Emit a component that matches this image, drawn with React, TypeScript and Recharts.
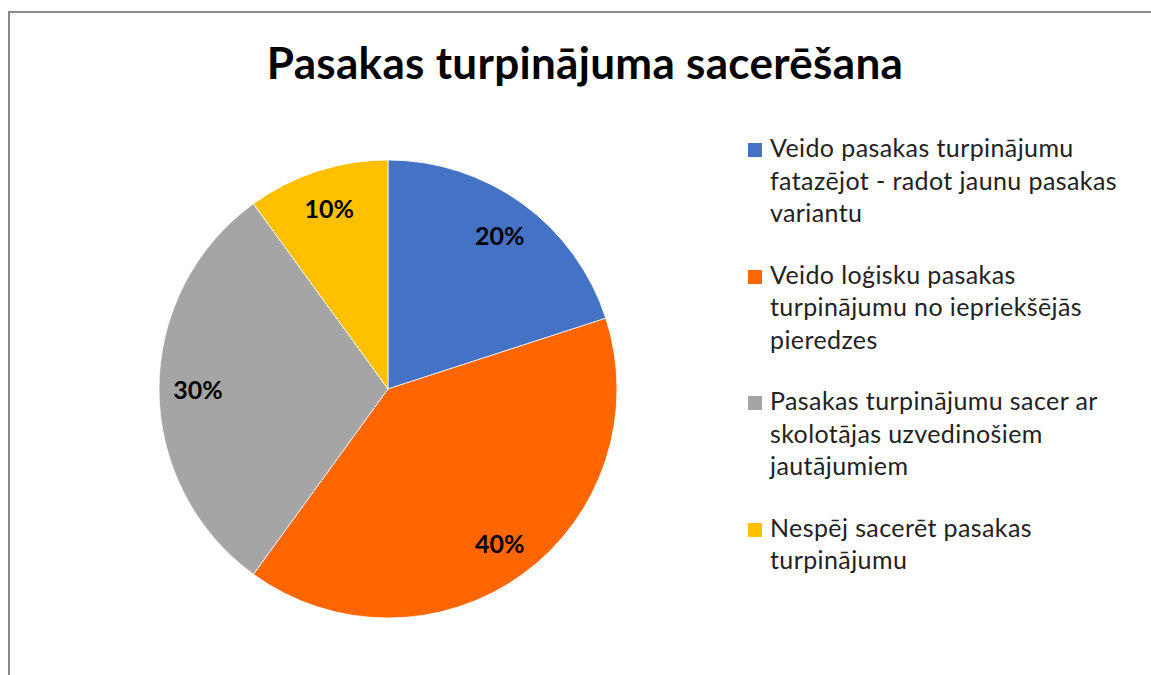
import { PieChart, Pie, Cell, Legend } from 'recharts'

const categories = [
  'Veido pasakas turpinājumu fatazējot - radot jaunu pasakas variantu',
  'Veido loģisku pasakas turpinājumu no iepriekšējās pieredzes',
  'Pasakas turpinājumu sacer ar skolotājas uzvedinošiem jautājumiem',
  'Nespēj sacerēt pasakas turpinājumu',
]
const values = [20, 40, 30, 10]
const colors = ['#4472C4', '#FF6600', '#A5A5A5', '#FFC000']
const title = 'Pasakas turpinājuma sacerēšana'

const FONT = 'Lato, "Open Sans", sans-serif'
const RADIAN = Math.PI / 180

const data = categories.map((name, i) => ({ name, value: values[i] }))

function renderLabel(props: any) {
  const { cx, cy, midAngle, outerRadius, percent } = props
  const r = outerRadius * 0.83
  const x = cx + r * Math.cos(-midAngle * RADIAN)
  const y = cy + r * Math.sin(-midAngle * RADIAN)
  return (
    <text
      x={x}
      y={y}
      textAnchor="middle"
      dominantBaseline="central"
      fill="#000"
      fontFamily={FONT}
      fontWeight={700}
      fontSize={25}
    >
      {`${Math.round(percent * 100)}%`}
    </text>
  )
}

function LegendContent() {
  return (
    <div style={{ fontFamily: FONT, fontSize: 25, letterSpacing: 0.4, color: '#222' }}>
      {categories.map((c, i) => (
        <div key={c} style={{ display: 'flex', alignItems: 'flex-start', marginBottom: 29 }}>
          <span
            style={{
              width: 14,
              height: 14,
              background: colors[i],
              flex: 'none',
              marginTop: 12,
              marginRight: 8,
            }}
          />
          <span style={{ lineHeight: '32.5px', width: 365 }}>{c}</span>
        </div>
      ))}
    </div>
  )
}

export default function App() {
  return (
    <div style={{ position: 'absolute', left: 0, top: 0, width: 1151, height: 675, overflow: 'hidden', background: '#fff' }}>
      <div
        style={{
          position: 'absolute',
          left: 8,
          top: 11,
          width: 1200,
          height: 700,
          borderLeft: '2px solid #898989',
          borderTop: '2px solid #898989',
        }}
      />
      <div
        style={{
          position: 'absolute',
          left: 0,
          top: 36,
          width: 1170,
          textAlign: 'center',
          fontFamily: FONT,
          fontWeight: 700,
          fontSize: 44,
          letterSpacing: 0.3,
          color: '#000',
        }}
      >
        {title}
      </div>
      <div style={{ position: 'absolute', left: 0, top: 0 }}>
        <PieChart width={1151} height={675} margin={{ top: 0, right: 0, bottom: 0, left: 0 }}>
          <Pie
            data={data}
            dataKey="value"
            nameKey="name"
            cx={388}
            cy={389}
            outerRadius={229}
            startAngle={90}
            endAngle={-270}
            stroke="#fff"
            strokeWidth={0.75}
            label={renderLabel}
            labelLine={false}
            isAnimationActive={false}
          >
            {data.map((d, i) => (
              <Cell key={d.name} fill={colors[i]} />
            ))}
          </Pie>
          <Legend
            content={<LegendContent />}
            wrapperStyle={{ position: 'absolute', left: 748, top: 131, width: 400 }}
          />
        </PieChart>
      </div>
    </div>
  )
}
